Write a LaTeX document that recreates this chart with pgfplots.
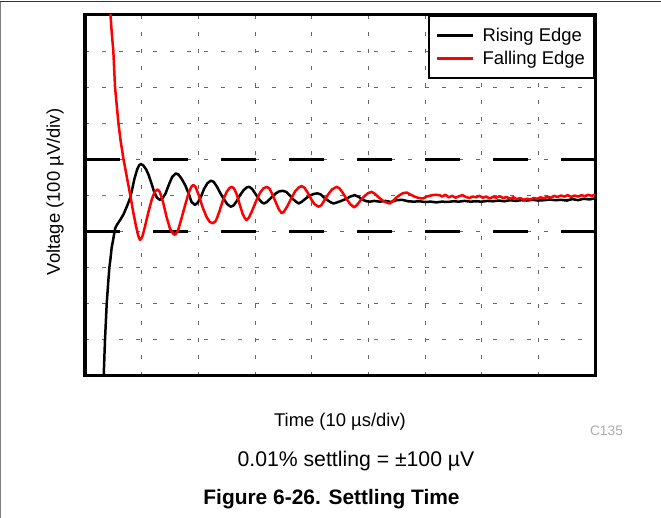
\documentclass[border=0pt]{standalone}
\usepackage{fontspec}
\setmainfont{Liberation Sans}
\usepackage{pgfplots}
\pgfplotsset{compat=1.18}
\begin{document}
\begin{tikzpicture}
\useasboundingbox (-85bp,-142bp) rectangle (576bp,376bp);
\draw[black!80, line width=1bp] (-85bp,374bp) -- (576bp,374bp);
\draw[black!50, line width=1bp] (-84.5bp,-142bp) -- (-84.5bp,374bp);
\begin{axis}[
  at={(0,0)}, anchor=south west,
  scale only axis, width=510bp, height=361bp,
  xmin=0, xmax=9, ymin=-5, ymax=5,
  xtick={1,...,8}, ytick={-4,...,4},
  xticklabels={}, yticklabels={},
  major tick length=0pt,
  grid=major,
  grid style={black!60, line width=0.8bp, dash pattern=on 4bp off 13bp},
  axis line style={line width=3bp},
  legend style={at={(rel axis cs:1,1)}, anchor=north east, draw=black, line width=2bp,
    fill=white, font=\fontsize{18.5}{22}\selectfont, inner xsep=7bp, inner ysep=10bp,
    nodes={inner sep=2bp}, row sep=4bp, column sep=6bp},
  legend cell align=left,
  legend image code/.code={\draw[#1, line width=2.5bp] (0bp,0bp) -- (36bp,0bp);},
]
\addplot[forget plot, black, line width=3bp, dash pattern=on 35bp off 33bp] coordinates {(0,1) (9,1)};
\addplot[forget plot, black, line width=3bp, dash pattern=on 35bp off 33bp] coordinates {(0,-1) (9,-1)};
\addplot[black, line width=2.5bp, line join=round] coordinates {
(0.32,-5.3) (0.33,-5.0) (0.353,-4.0) (0.383,-3.0) (0.41,-2.4) (0.43,-2.0) (0.45,-1.75)
(0.47,-1.45) (0.5,-1.2) (0.53,-0.92) (0.56,-0.82) (0.62,-0.68) (0.68,-0.52) (0.74,-0.3)
(0.79,-0.1) (0.83,0.15) (0.87,0.45) (0.92,0.72) (0.96,0.85) (0.99,0.87) (1.03,0.83)
(1.08,0.72) (1.12,0.58) (1.17,0.35) (1.22,0.1) (1.27,-0.06) (1.32,-0.12) (1.37,-0.07)
(1.42,0.05) (1.48,0.3) (1.54,0.52) (1.60,0.61) (1.65,0.58) (1.71,0.45) (1.77,0.28)
(1.83,0.05) (1.88,-0.18) (1.94,-0.26) (1.99,-0.2) (2.05,-0.02) (2.10,0.18) (2.16,0.34)
(2.22,0.41) (2.27,0.38) (2.33,0.24) (2.39,0.06) (2.45,-0.1) (2.51,-0.24) (2.57,-0.31)
(2.62,-0.28) (2.68,-0.15) (2.74,0.02) (2.80,0.15) (2.86,0.23) (2.90,0.24) (2.95,0.18)
(3.01,0.04) (3.07,-0.1) (3.12,-0.19) (3.16,-0.22) (3.21,-0.18) (3.28,-0.07) (3.35,0.04)
(3.42,0.11) (3.49,0.13) (3.55,0.1) (3.61,0.01) (3.67,-0.1) (3.73,-0.18) (3.77,-0.22)
(3.82,-0.18) (3.89,-0.09) (3.96,-0.01) (4.03,0.04) (4.1,0.06) (4.16,0.03) (4.22,-0.06)
(4.29,-0.14) (4.35,-0.2) (4.39,-0.22) (4.45,-0.19) (4.52,-0.15) (4.6,-0.1) (4.68,-0.03)
(4.76,0.01) (4.83,-0.04) (4.9,-0.12) (4.97,-0.16) (5.03,-0.17) (5.1,-0.15) (5.2,-0.17)
(5.3,-0.15) (5.4,-0.18) (5.5,-0.13) (5.6,-0.12) (5.7,-0.16) (5.8,-0.17) (5.9,-0.16)
(6.0,-0.18) (6.1,-0.17) (6.2,-0.19) (6.3,-0.17) (6.4,-0.18) (6.5,-0.16) (6.6,-0.17)
(6.7,-0.15) (6.8,-0.17) (6.9,-0.16) (7.0,-0.17) (7.1,-0.15) (7.2,-0.16) (7.3,-0.14)
(7.4,-0.16) (7.5,-0.13) (7.6,-0.15) (7.7,-0.13) (7.8,-0.14) (7.9,-0.12) (8.0,-0.14)
(8.1,-0.13) (8.2,-0.11) (8.3,-0.13) (8.4,-0.12) (8.5,-0.14) (8.6,-0.1) (8.7,-0.13)
(8.8,-0.09) (8.9,-0.11) (9.0,-0.08)};
\addlegendentry{Rising Edge}
\addplot[red, line width=2.5bp, line join=round] coordinates {
(0.43,5.4) (0.45,5.0) (0.47,4.55) (0.50,4.0) (0.515,3.5) (0.53,3.0) (0.56,2.5) (0.59,2.0)
(0.63,1.5) (0.68,1.0) (0.74,0.5) (0.80,0.0) (0.85,-0.45) (0.90,-0.85) (0.94,-1.12)
(0.97,-1.23) (1.01,-1.15) (1.06,-0.85) (1.12,-0.45) (1.18,-0.1) (1.23,0.1) (1.28,0.17)
(1.32,0.1) (1.38,-0.2) (1.44,-0.6) (1.50,-0.92) (1.55,-1.05) (1.59,-1.09) (1.64,-0.98)
(1.70,-0.65) (1.77,-0.25) (1.83,0.08) (1.88,0.25) (1.91,0.29) (1.95,0.24) (2.01,0.0)
(2.07,-0.3) (2.14,-0.58) (2.20,-0.73) (2.26,-0.77) (2.31,-0.7) (2.37,-0.45) (2.43,-0.15)
(2.50,0.1) (2.55,0.21) (2.59,0.24) (2.63,0.2) (2.68,0.02) (2.73,-0.25) (2.78,-0.5)
(2.82,-0.63) (2.85,-0.68) (2.89,-0.62) (2.95,-0.42) (3.02,-0.15) (3.09,0.08) (3.15,0.2)
(3.21,0.24) (3.26,0.18) (3.31,0.02) (3.37,-0.2) (3.42,-0.38) (3.47,-0.49) (3.51,-0.45)
(3.57,-0.3) (3.64,-0.08) (3.71,0.12) (3.77,0.22) (3.82,0.26) (3.87,0.22) (3.93,0.08)
(3.99,-0.1) (4.05,-0.24) (4.12,-0.31) (4.17,-0.27) (4.23,-0.12) (4.30,0.05) (4.36,0.17)
(4.44,0.24) (4.49,0.2) (4.55,0.07) (4.61,-0.08) (4.68,-0.24) (4.75,-0.33) (4.80,-0.26)
(4.86,-0.14) (4.93,-0.02) (5.00,0.07) (5.06,0.1) (5.12,0.04) (5.19,-0.06) (5.27,-0.16)
(5.33,-0.2) (5.38,-0.22) (5.44,-0.14) (5.50,-0.05) (5.57,0.03) (5.62,0.07) (5.68,0.08)
(5.74,0.03) (5.80,-0.02) (5.87,-0.06) (5.93,-0.08) (5.97,-0.08) (6.03,-0.03) (6.10,0.0)
(6.17,0.02) (6.26,0.01) (6.3,-0.03) (6.36,0.02) (6.42,-0.05) (6.48,-0.01) (6.54,-0.06)
(6.6,-0.02) (6.66,0.01) (6.72,-0.04) (6.78,-0.07) (6.84,-0.03) (6.9,-0.05) (6.96,-0.01)
(7.02,-0.06) (7.08,-0.03) (7.14,-0.08) (7.2,-0.04) (7.26,-0.06) (7.32,-0.02) (7.38,-0.07)
(7.44,-0.04) (7.5,-0.09) (7.56,-0.05) (7.62,-0.1) (7.68,-0.07) (7.74,-0.12) (7.8,-0.09)
(7.86,-0.11) (7.92,-0.07) (7.98,-0.09) (8.04,-0.05) (8.1,-0.08) (8.16,-0.03) (8.22,-0.06)
(8.28,-0.01) (8.34,-0.04) (8.4,0.0) (8.46,-0.03) (8.52,0.01) (8.58,-0.04) (8.64,0.0)
(8.7,-0.03) (8.76,0.01) (8.82,-0.02) (8.88,0.02) (8.94,-0.01) (9.0,0.02)};
\addlegendentry{Falling Edge}
\end{axis}
\node[rotate=90, inner sep=0pt, font=\fontsize{18.5}{22}\selectfont] at (-30bp,184bp) {Voltage (100 µV/div)};
\node[anchor=base, inner sep=0pt, font=\fontsize{18.5}{22}\selectfont] at (255bp,-50.5bp) {Time (10 µs/div)};
\node[anchor=base, inner sep=0pt, text=black!33, font=\fontsize{13.8}{16}\selectfont] at (521.5bp,-59bp) {C135};
\node[anchor=base, inner sep=0pt, font=\fontsize{21.3}{25}\selectfont] at (271bp,-90bp) {0.01\% settling = ±100 µV};
\node[anchor=base, inner sep=0pt, font=\fontsize{21}{25}\selectfont\bfseries] at (246.5bp,-128bp) {Figure 6-26. Settling Time};
\end{tikzpicture}
\end{document}
